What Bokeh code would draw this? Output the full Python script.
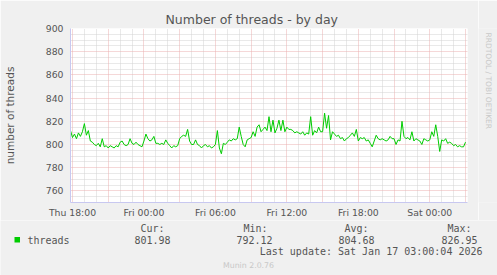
import math
from bokeh.plotting import figure
from bokeh.layouts import column, row
from bokeh.models import FixedTicker, Grid, Label, ColumnDataSource, Range1d
from bokeh.embed import file_html
from bokeh.resources import INLINE

# ---- data (10-minute samples, Thu 17:50 .. Sat 03:00) ----
threads = [
    812,
    806, 809, 805, 810, 807, 811,
    818, 808, 812, 803, 802, 800,
    799, 801, 798, 805, 798, 799,
    797, 799, 798, 797, 799, 798,
    802, 803, 800, 799, 800, 805,
    801, 800, 802, 800, 799, 798,
    803, 809, 805, 803, 804, 807,
    801, 801, 800, 801, 800, 804,
    801, 799, 797, 799, 798, 799,
    805, 807, 808, 807, 813, 803,
    800, 800, 804, 800, 799, 797,
    799, 800, 798, 799, 797, 798,
    800, 812, 797, 792, 801, 800,
    802, 804, 803, 805, 804, 805,
    815, 807, 800, 798, 804, 805,
    806, 811, 807, 815, 817, 811,
    813, 815, 812, 824, 811, 821,
    810, 814, 821, 812, 821, 811,
    815, 813, 813, 812, 810, 811,
    810, 809, 811, 808, 810, 809,
    824, 808, 812, 810, 815, 811,
    811, 827, 814, 825, 804, 811,
    809, 807, 808, 805, 806, 803,
    805, 806, 808, 810, 807, 813,
    803, 806, 805, 806, 803, 804,
    801, 798, 803, 808, 805, 804,
    805, 804, 803, 804, 807, 805,
    805, 800, 804, 803, 820, 807,
    805, 806, 804, 811, 803, 805,
    804, 803, 800, 805, 804, 803,
    804, 811, 807, 817, 807, 794,
    804, 803, 805, 801, 802, 801,
    799, 800, 798, 799, 798, 798,
    802,
]
# hours relative to Thu 18:00
hours = [(-10 + 10 * i) / 60.0 for i in range(len(threads))]

x_ticks = [0, 6, 12, 18, 24, 30]
x_tick_labels = ["Thu 18:00", "Fri 00:00", "Fri 06:00", "Fri 12:00", "Fri 18:00", "Sat 00:00"]
y_ticks = [760, 780, 800, 820, 840, 860, 880, 900]

series_name = "threads"
summary_headers = ["Cur:", "Min:", "Avg:", "Max:"]
summary_values = ["801.98", "792.12", "804.68", "826.95"]
last_update = "Last update: Sat Jan 17 03:00:04 2026"
title_text = "Number of threads - by day"
ylabel_text = "number of threads"
credit_text = "RRDTOOL / TOBI OETIKER"
version_text = "Munin 2.0.76"

# ---- layout ----
W = 497
WA = 478
HA, HB = 220, 55
FL, FT, FW, FH = 67, 28, 400, 175
X0 = -10 / 60.0
X1 = X0 + FW / 12.0
Y0, Y1 = 750, 900

bg = "#f0f0f0"
minor_col = "#d2d2d2"
major_col = "#eab0b0"
axis_col = "#c8c8f0"
text_col = "#555555"
faint_col = "#c8c8c8"
mono = "DejaVu Sans Mono"
sans = "DejaVu Sans"

p = figure(width=WA, height=HA, output_backend="svg", toolbar_location=None,
           x_range=(X0, X1), y_range=(Y0, Y1),
           min_border_left=FL, min_border_right=WA - FL - FW,
           min_border_top=FT, min_border_bottom=HA - FT - FH)
p.background_fill_color = "white"
p.border_fill_color = bg
p.outline_line_color = None
p.xgrid.visible = False
p.ygrid.visible = False

p.add_layout(Grid(dimension=0, ticker=FixedTicker(ticks=[h for h in range(0, 34) if h % 3]),
                  grid_line_color=minor_col, grid_line_dash="1 1"))
p.add_layout(Grid(dimension=1, ticker=FixedTicker(ticks=[v for v in range(755, 900, 5) if v % 20]),
                  grid_line_color=minor_col, grid_line_dash="1 1"))
p.add_layout(Grid(dimension=0, ticker=FixedTicker(ticks=list(range(0, 34, 3))),
                  grid_line_color=major_col, grid_line_dash="1 1"))
p.add_layout(Grid(dimension=1, ticker=FixedTicker(ticks=y_ticks),
                  grid_line_color=major_col, grid_line_dash="1 1"))

for ax in (p.xaxis[0], p.yaxis[0]):
    ax.axis_line_color = axis_col
    ax.major_tick_line_color = None
    ax.minor_tick_line_color = None
    ax.major_tick_out = 0
    ax.major_tick_in = 0
    ax.minor_tick_out = 0
    ax.minor_tick_in = 0
    ax.major_label_text_font = sans
    ax.major_label_text_font_size = "9.3px"
    ax.major_label_text_color = text_col

xa = p.xaxis[0]
xa.ticker = FixedTicker(ticks=x_ticks)
xa.major_label_overrides = {t: l for t, l in zip(x_ticks, x_tick_labels)}
xa.major_label_standoff = 4

ya = p.yaxis[0]
ya.ticker = FixedTicker(ticks=y_ticks)
ya.major_label_standoff = 7
ya.axis_label = ylabel_text
ya.axis_label_standoff = 27
ya.axis_label_text_font = sans
ya.axis_label_text_font_size = "10.5px"
ya.axis_label_text_font_style = "normal"
ya.axis_label_text_color = text_col

src = ColumnDataSource(dict(x=hours, y=threads))
p.line("x", "y", source=src, line_color="#00cc00", line_width=1.0)

p.title.text = title_text
p.title.align = "left"
p.title.offset = 95
p.title.standoff = 3
p.title.text_font = sans
p.title.text_font_size = "12.5px"
p.title.text_font_style = "normal"
p.title.text_color = text_col

def strip(width, height):
    f = figure(width=width, height=height, output_backend="svg", toolbar_location=None,
               x_range=Range1d(0, width), y_range=Range1d(height, 0),
               x_axis_type=None, y_axis_type=None,
               min_border=0, min_border_left=0, min_border_right=0,
               min_border_top=0, min_border_bottom=0)
    f.background_fill_color = bg
    f.border_fill_color = bg
    f.outline_line_color = None
    f.grid.visible = False
    return f

# ---- vertical credit strip (right of the chart) ----
r = strip(W - WA, HA)
r.add_layout(Label(x=488 - WA, y=5, text=credit_text, text_font=sans, text_font_size="7.5px",
                   text_align="left", text_baseline="middle", text_color=faint_col,
                   angle=-math.pi / 2))

# ---- legend strip (pixel coordinates, y downward) ----
q = strip(W, HB)
q.quad(left=[14], right=[19.5], top=[16.5], bottom=[22], fill_color="#00cc00", line_color=None)

def lab(px, py, text, size, font=mono, align="left", color=text_col):
    q.add_layout(Label(x=px, y=py, text=text, text_font=font, text_font_size=size,
                       text_align=align, text_baseline="middle", text_color=color))

lab(27, 19.5, series_name, "10px")
for hx, h in zip([164, 267, 368, 471], summary_headers):
    lab(hx, 8, h, "10px", align="right")
for vx, v in zip([170, 272, 374, 477], summary_values):
    lab(vx, 19.5, v, "10px", align="right")
lab(482, 31, last_update, "10px", align="right")
lab(248, 44.5, version_text, "7.8px", font=sans, align="center", color=faint_col)

layout = column(row(p, r, spacing=0), q, spacing=0)
open("out.html", "w").write(file_html(layout, INLINE))
